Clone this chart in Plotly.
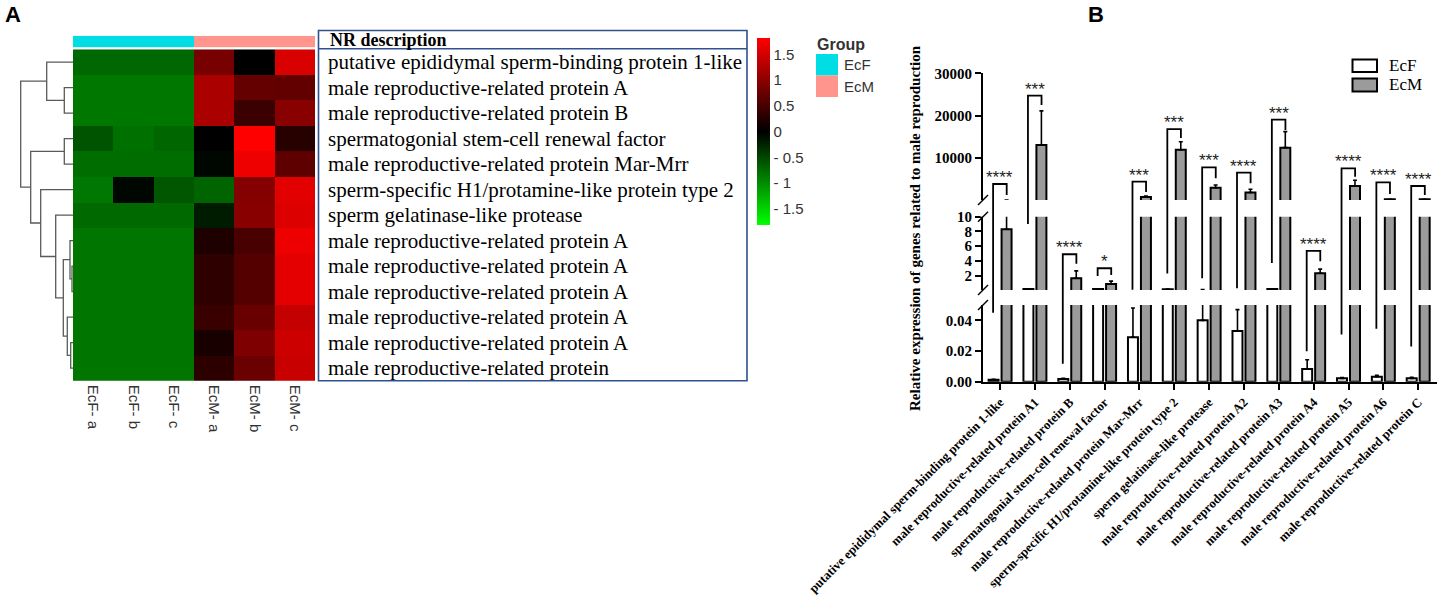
import plotly.graph_objects as go

W, H = 1437, 597


def X(px):
    return px / W


def Y(px):
    return 1 - px / H


# ---------------- Panel A data ----------------
samples = ["EcF- a", "EcF- b", "EcF- c", "EcM- a", "EcM- b", "EcM- c"]
sample_group = [0, 0, 0, 1, 1, 1]
group_names = ["EcF", "EcM"]
nr_description = [
    "putative epididymal sperm-binding protein 1-like",
    "male reproductive-related protein A",
    "male reproductive-related protein B",
    "spermatogonial stem-cell renewal factor",
    "male reproductive-related protein Mar-Mrr",
    "sperm-specific H1/protamine-like protein type 2",
    "sperm gelatinase-like protease",
    "male reproductive-related protein A",
    "male reproductive-related protein A",
    "male reproductive-related protein A",
    "male reproductive-related protein A",
    "male reproductive-related protein A",
    "male reproductive-related protein",
]
heat_z = [
    [-0.74, -0.74, -0.74, 0.85, 0.00, 1.55],
    [-0.86, -0.86, -0.86, 1.22, 0.72, 0.70],
    [-0.86, -0.86, -0.86, 1.22, 0.42, 0.98],
    [-0.60, -0.80, -0.73, 0.00, 1.82, 0.28],
    [-0.78, -0.78, -0.78, -0.05, 1.70, 0.68],
    [-0.85, -0.05, -0.62, -0.72, 0.95, 1.62],
    [-0.75, -0.75, -0.75, -0.20, 0.98, 1.58],
    [-0.84, -0.84, -0.84, 0.22, 0.52, 1.70],
    [-0.84, -0.84, -0.84, 0.33, 0.60, 1.63],
    [-0.84, -0.84, -0.84, 0.33, 0.60, 1.63],
    [-0.84, -0.84, -0.84, 0.41, 0.75, 1.40],
    [-0.84, -0.84, -0.84, 0.18, 0.90, 1.46],
    [-0.84, -0.84, -0.84, 0.32, 0.76, 1.43],
]
# row dendrogram: (child a, child b, merge height); leaves 0..12, new nodes 13..
dendro_links = [
    (1, 2, 0.87), (0, 13, 2.63), (3, 4, 0.87), (8, 9, 0.10),
    (7, 16, 0.30), (11, 12, 0.23), (10, 18, 0.57), (17, 19, 0.97),
    (6, 20, 1.73), (5, 21, 3.23), (15, 22, 4.23), (14, 23, 5.23),
]
colorbar_tickvals = [1.5, 1, 0.5, 0, -0.5, -1, -1.5]
colorbar_ticktext = ["1.5", "1", "0.5", "0", "- 0.5", "- 1", "- 1.5"]

# ---------------- Panel B data ----------------
genes = [
    "putative epididymal sperm-binding protein 1-like",
    "male reproductive-related protein A1",
    "male reproductive-related protein B",
    "spermatogonial stem-cell renewal factor",
    "male reproductive-related protein Mar-Mrr",
    "sperm-specific H1/protamine-like protein type 2",
    "sperm gelatinase-like protease",
    "male reproductive-related protein A2",
    "male reproductive-related protein A3",
    "male reproductive-related protein A4",
    "male reproductive-related protein A5",
    "male reproductive-related protein A6",
    "male reproductive-related protein C",
]
ecf_mean = [0.0012, 0.20, 0.0018, 0.18, 0.0290, 0.16, 0.0400, 0.0330, 0.19, 0.0082, 0.0022, 0.0033, 0.0022]
ecf_err = [0.0004, 0.02, 0.0004, 0.02, 0.0190, 0.02, 0.0600, 0.0140, 0.02, 0.0061, 0.0005, 0.0008, 0.0006]
ecm_mean = [8.3, 13000, 1.65, 0.87, 700, 11900, 2900, 1800, 12400, 2.33, 3300, 200, 200]
ecm_err = [2.5, 8100, 1.0, 0.38, 250, 1900, 650, 750, 3800, 0.55, 1400, 5, 5]
sig_stars = ["****", "***", "****", "*", "***", "***", "***", "****", "***", "****", "****", "****", "****"]
# brackets: (value, segment index) ; segment 0 = lower, 1 = middle, 2 = upper
bracket_top = [(3800, 2), (24700, 2), (4.9, 1), (3.0, 1), (4340, 2), (16800, 2), (7740, 2),
               (6470, 2), (19040, 2), (5.35, 1), (7500, 2), (4200, 2), (3325, 2)]
bracket_left = [(0.045, 0), (9.0, 1), (0.0117, 0), (1.96, 1), (0.1, 1), (2.3, 1), (1.65, 1),
                (0.28, 1), (3.7, 1), (0.0198, 0), (0.0308, 0), (0.0345, 0), (0.023, 0)]
bracket_right = [(1190, 2), (22500, 2), (3.6, 1), (2.1, 1), (1900, 2), (14660, 2), (5140, 2),
                 (3960, 2), (16580, 2), (3.95, 1), (5525, 2), (1430, 2), (1190, 2)]

# broken y-axis segments (layout): visible pixel span and value range
segments = [
    dict(axis="y3", px=(305.0, 381.7), rng=(0, 0.05), ticks=[0, 0.02, 0.04], fmt=".2f"),
    dict(axis="y4", px=(216.7, 290.0), rng=(0.05, 10), ticks=[2, 4, 6, 8, 10], fmt="d"),
    dict(axis="y5", px=(73.3, 200.0), rng=(10, 30000), ticks=[10000, 20000, 30000], fmt="d"),
]
EXT = 4  # px each segment axis reaches into a break (hidden under the break mask)


def seg_paper(v, s):
    seg = segments[s]
    d0, d1 = Y(seg["px"][1]), Y(seg["px"][0])
    r0, r1 = seg["rng"]
    return d0 + (v - r0) / (r1 - r0) * (d1 - d0)


fig = go.Figure()

# ---------------- Panel A ----------------
fig.add_trace(go.Heatmap(
    z=heat_z, x=samples, y=list(range(len(nr_description))),
    xaxis="x", yaxis="y",
    colorscale=[[0, "#00FF00"], [0.5, "#000000"], [1, "#FF0000"]],
    zmin=-1.82, zmax=1.82,
    colorbar=dict(x=X(757), xanchor="left", y=Y(131.6), yanchor="middle",
                  len=186.7, lenmode="pixels", thickness=13, thicknessmode="pixels",
                  xpad=0, ypad=0, outlinewidth=0, ticks="",
                  tickvals=colorbar_tickvals, ticktext=colorbar_ticktext,
                  tickfont=dict(family="Liberation Sans", size=15, color="#333")),
    hoverinfo="skip",
))
fig.add_trace(go.Heatmap(
    z=[sample_group], x=samples, y=[0], xaxis="x", yaxis="y2",
    colorscale=[[0, "#00DDE4"], [1, "#FF958C"]], zmin=0, zmax=1,
    showscale=False, hoverinfo="skip",
))

# dendrogram
pos = {i: i for i in range(len(nr_description))}
hgt = {i: 0.0 for i in range(len(nr_description))}
dx, dy = [], []
for k, (a, b, h) in enumerate(dendro_links):
    n = len(nr_description) + k
    dx += [hgt[a], h, h, hgt[b], None]
    dy += [pos[a], pos[a], pos[b], pos[b], None]
    pos[n] = (pos[a] + pos[b]) / 2
    hgt[n] = h
fig.add_trace(go.Scatter(x=dx, y=dy, mode="lines", xaxis="x2", yaxis="y",
                         line=dict(color="#5a5a5a", width=1.3), hoverinfo="skip",
                         showlegend=False))

# ---------------- Panel B ----------------
xpos = list(range(len(genes)))
for s, seg in enumerate(segments):
    r0, r1 = seg["rng"]
    # bars of the upper segments start far below their window, so their bottom edge
    # lands under the break mask (bars stay open across the break)
    base = 0 if s == 0 else r0 - (r1 - r0)
    for name, mean, err, fill in [("EcF", ecf_mean, ecf_err, "white"),
                                  ("EcM", ecm_mean, ecm_err, "#9B9B9B")]:
        ys, cols, lws = [], [], []
        for v, e in zip(mean, err):
            if s > 0 and v + e <= r0:      # nothing of this bar reaches this segment
                ys.append(None)
            else:
                ys.append(v - base)
            inside = s == 0 or v > r0      # bar body reaches this segment
            cols.append(fill if inside else "rgba(0,0,0,0)")
            lws.append(2 if inside else 0)
        fig.add_trace(go.Bar(
            x=xpos, y=ys, base=base, name=name,
            xaxis="x3", yaxis=seg["axis"], offsetgroup=name,
            marker=dict(color=cols, line=dict(color="black", width=lws)),
            error_y=dict(type="data", array=err, arrayminus=[0] * len(err), symmetric=False,
                         color="black", thickness=1.6, width=2),
            showlegend=False, hoverinfo="skip",
        ))

shapes = []
annotations = []

# white masks over the axis breaks
for s in range(len(segments) - 1):
    shapes.append(dict(type="rect", xref="paper", yref="paper", layer="above",
                       x0=X(980.5), x1=1.0, y0=Y(segments[s]["px"][0]),
                       y1=Y(segments[s + 1]["px"][1]), fillcolor="white", line=dict(width=0)))

# axis break marks
for s in range(len(segments) - 1):
    for edge in (segments[s]["px"][0], segments[s + 1]["px"][1]):
        shapes.append(dict(type="line", xref="x3 domain", yref="paper",
                           xsizemode="pixel", ysizemode="pixel", xanchor=0, yanchor=Y(edge),
                           x0=-5, x1=5, y0=-5, y1=5, line=dict(color="black", width=1.5)))

# significance brackets
for i in range(len(genes)):
    xl, xr = i - 0.2, i + 0.19
    yt = seg_paper(*bracket_top[i])
    yl = seg_paper(*bracket_left[i])
    yr = seg_paper(*bracket_right[i])
    shapes.append(dict(type="path", xref="x3", yref="paper", layer="above",
                       path=f"M{xl},{yl} L{xl},{yt} L{xr},{yt} L{xr},{yr}",
                       line=dict(color="black", width=1.8)))
    annotations.append(dict(x=(xl + xr) / 2, y=yt, xref="x3", yref="paper", text=sig_stars[i],
                            showarrow=False, yanchor="bottom", xanchor="center", yshift=-5,
                            font=dict(family="Liberation Sans", size=17, color="#222")))

# table box of panel A
tbl_col = "#2F528F"
shapes.append(dict(type="rect", xref="paper", yref="paper", x0=X(318.5), x1=X(747),
                   y0=Y(380.8), y1=Y(30.5), line=dict(color=tbl_col, width=1.6)))
shapes.append(dict(type="line", xref="paper", yref="paper", x0=X(318.5), x1=X(747),
                   y0=Y(48.8), y1=Y(48.8), line=dict(color=tbl_col, width=1.6)))
annotations.append(dict(x=X(328), y=Y(40), xref="paper", yref="paper", text="<b>NR description</b>",
                        showarrow=False, xanchor="left", yanchor="middle",
                        font=dict(family="Liberation Serif", size=18, color="black")))

# group legend (panel A)
annotations.append(dict(x=X(815), y=Y(45), xref="paper", yref="paper", text="<b>Group</b>",
                        showarrow=False, xanchor="left", yanchor="middle",
                        font=dict(family="Liberation Sans", size=16, color="#333")))
for k, (col, y0, y1) in enumerate([("#00DDE4", 54, 75.5), ("#FF958C", 75.5, 97)]):
    shapes.append(dict(type="rect", xref="paper", yref="paper", x0=X(816), x1=X(838),
                       y0=Y(y1), y1=Y(y0), fillcolor=col, line=dict(width=0)))
    annotations.append(dict(x=X(842), y=Y((y0 + y1) / 2), xref="paper", yref="paper",
                            text=group_names[k], showarrow=False, xanchor="left", yanchor="middle",
                            font=dict(family="Liberation Sans", size=15, color="#333")))

# bar legend (panel B)
for k, (col, y0, y1) in enumerate([("white", 59.5, 72), ("#9B9B9B", 78.5, 91.5)]):
    shapes.append(dict(type="rect", xref="paper", yref="paper", x0=X(1352.5), x1=X(1377),
                       y0=Y(y1), y1=Y(y0), fillcolor=col, line=dict(color="black", width=2)))
    annotations.append(dict(x=X(1387), y=Y((y0 + y1) / 2), xref="paper", yref="paper",
                            text=group_names[k], showarrow=False, xanchor="left", yanchor="middle",
                            font=dict(family="Liberation Serif", size=17, color="black")))

# y title panel B
annotations.append(dict(x=X(915), y=Y(228), xref="paper", yref="paper",
                        text="<b>Relative expression of genes related to male reproduction</b>",
                        textangle=-90, showarrow=False, xanchor="center", yanchor="middle",
                        font=dict(family="Liberation Serif", size=15, color="black")))

# panel letters
for txt, px in [("A", 3), ("B", 1086)]:
    annotations.append(dict(x=X(px), y=Y(15), xref="paper", yref="paper", text=f"<b>{txt}</b>",
                            showarrow=False, xanchor="left", yanchor="middle",
                            font=dict(family="Liberation Sans", size=22, color="black")))

layout = dict(
    width=W, height=H, margin=dict(l=0, r=0, t=0, b=0),
    template="none", paper_bgcolor="white", plot_bgcolor="rgba(0,0,0,0)",
    showlegend=False, barmode="group", bargap=0.255, bargroupgap=0.23,
    xaxis=dict(domain=[X(73), X(315)], anchor="y", ticks="", showline=False, showgrid=False,
               zeroline=False, tickangle=90, ticklabelstandoff=3,
               tickfont=dict(family="Liberation Sans", size=15, color="#333")),
    yaxis=dict(domain=[Y(380.8), Y(49.3)], anchor="x", side="right", range=[12.5, -0.5],
               autorange=False, tickvals=list(range(len(nr_description))), ticktext=nr_description,
               ticks="", showline=False, showgrid=False, zeroline=False, ticklabelstandoff=12,
               tickfont=dict(family="Liberation Serif", size=21, color="black")),
    yaxis2=dict(domain=[Y(47.3), Y(35.7)], anchor="x", visible=False),
    xaxis2=dict(domain=[X(18), X(73)], anchor="y", range=[5.5, 0], autorange=False, visible=False),
    xaxis3=dict(domain=[X(983), 1.0], anchor="y3", range=[-0.49, 12.54], autorange=False,
                tickvals=xpos, ticktext=genes, tickangle=-45, showline=True, linewidth=2,
                linecolor="black", ticks="outside", ticklen=6, tickwidth=2, tickcolor="black",
                showgrid=False, zeroline=False,
                tickfont=dict(family="Liberation Serif", size=12.8, color="black", weight="bold")),
    shapes=shapes, annotations=annotations,
)
last = len(segments) - 1
for s, seg in enumerate(segments):
    top_px, bot_px = seg["px"]
    r0, r1 = seg["rng"]
    upp = (r1 - r0) / (bot_px - top_px)
    ext_top = EXT if s < last else 0
    ext_bot = EXT if s > 0 else 0
    key = "yaxis" + seg["axis"][1:]
    layout[key] = dict(domain=[Y(bot_px + ext_bot), Y(top_px - ext_top)], anchor="x3",
                       range=[r0 - ext_bot * upp, r1 + ext_top * upp], autorange=False,
                       tickvals=seg["ticks"], tickformat=seg["fmt"],
                       showline=True, linewidth=2, linecolor="black",
                       ticks="outside", ticklen=6, tickwidth=2, tickcolor="black",
                       showgrid=False, zeroline=False,
                       tickfont=dict(family="Liberation Serif", size=15, color="black",
                                     weight="bold"))
fig.update_layout(**layout)

fig.write_html("out.html", config={"displayModeBar": False},
               post_script="document.body.style.margin='0';")
